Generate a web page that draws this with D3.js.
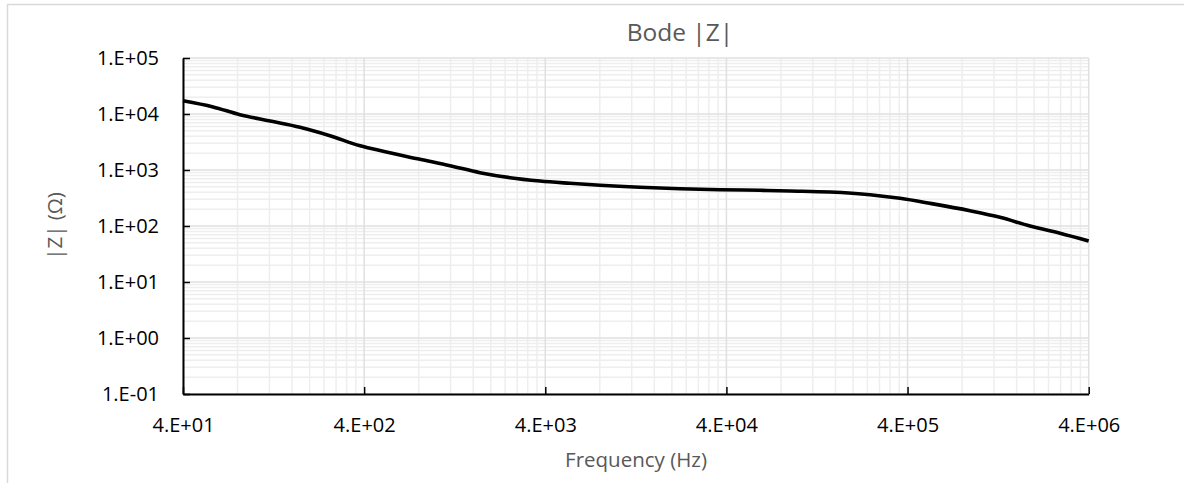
<!DOCTYPE html>
<html lang="en">
<head>
  <meta charset="UTF-8">
  <title>Bode |Z|</title>
  <style>
    body { margin: 0; background: #fff; }
    text { font-family: "Open Sans", sans-serif; }
  </style>
</head>
<body>
  <svg id="container" height="483" width="1184"></svg>
</body>
<script src="https://cdn.jsdelivr.net/npm/d3@7"></script>
<script>
  // data
  let freq = [40, 58.6, 82.6, 121, 177, 259, 380, 431, 814, 1191, 1744, 2555, 3741, 5476, 8021,
              13336, 22160, 36850, 61300, 89760, 149200, 248100, 363400, 532000, 884800,
              1295000, 1897000, 2777000, 4000000]
  let zmag = [17280, 13400, 9700, 7500, 5800, 4100, 2700, 2440, 1553, 1194, 895, 729, 636, 579, 533,
              491, 464, 445, 434, 422, 404, 362, 312, 254, 187.5,
              143, 100, 74, 54]
  let xTicks = [4e1, 4e2, 4e3, 4e4, 4e5, 4e6]
  let yTicks = [1e-1, 1e0, 1e1, 1e2, 1e3, 1e4, 1e5]

  let svg = d3.select("#container")
  let pLeft = 183, pRight = 1088.7, pTop = 58, pBottom = 394

  let x = d3.scaleLog().domain([40, 4e6]).range([pLeft, pRight])
  let y = d3.scaleLog().domain([0.1, 1e5]).range([pBottom, pTop])

  // excel style "4.E+01"
  let fmt = v => {
    let exp = Math.floor(Math.log10(v) + 1e-9)
    let m = Math.round(v / Math.pow(10, exp))
    let s = (exp < 0 ? "-" : "+") + String(Math.abs(exp)).padStart(2, "0")
    return m + ".E" + s
  }

  // chart border
  svg.append("rect").attr("x", 7.5).attr("y", 4.5).attr("width", 1300).attr("height", 600)
     .attr("fill", "none").attr("stroke", "#d9d9d9").attr("stroke-width", 1.5)

  // minor grid
  let xMinor = [], yMinor = []
  xTicks.slice(0, -1).forEach(t => { for (let k = 2; k <= 9; k++) xMinor.push(t * k) })
  yTicks.slice(0, -1).forEach(t => { for (let k = 2; k <= 9; k++) yMinor.push(t * k) })

  let grid = svg.append("g")
  grid.selectAll(".xm").data(xMinor).enter().append("line")
      .attr("x1", d => x(d)).attr("x2", d => x(d)).attr("y1", pTop).attr("y2", pBottom)
      .attr("stroke", "#eeeeee").attr("stroke-width", 1.5)
  grid.selectAll(".ym").data(yMinor).enter().append("line")
      .attr("y1", d => y(d)).attr("y2", d => y(d)).attr("x1", pLeft).attr("x2", pRight)
      .attr("stroke", "#eeeeee").attr("stroke-width", 1.5)
  grid.selectAll(".xM").data(xTicks).enter().append("line")
      .attr("x1", d => x(d)).attr("x2", d => x(d)).attr("y1", pTop).attr("y2", pBottom)
      .attr("stroke", "#e0e0e0").attr("stroke-width", 1.5)
  grid.selectAll(".yM").data(yTicks).enter().append("line")
      .attr("y1", d => y(d)).attr("y2", d => y(d)).attr("x1", pLeft).attr("x2", pRight)
      .attr("stroke", "#e0e0e0").attr("stroke-width", 1.5)

  // axes
  let xAxis = d3.axisBottom(x).tickValues(xTicks).tickFormat(fmt).tickSizeInner(-7).tickSizeOuter(0).tickPadding(24)
  let yAxis = d3.axisLeft(y).tickValues(yTicks).tickFormat(fmt).tickSizeInner(-7).tickSizeOuter(0).tickPadding(24)

  let gx = svg.append("g").attr("transform", `translate(0,${pBottom})`).call(xAxis)
  let gy = svg.append("g").attr("transform", `translate(${pLeft},0)`).call(yAxis)
  ;[gx, gy].forEach(g => {
    g.select(".domain").attr("stroke", "#000").attr("stroke-width", 2)
    g.selectAll(".tick line").attr("stroke", "#000").attr("stroke-width", 1.5)
    g.selectAll("text").attr("fill", "#000").style("font-size", "20px")
  })
  gx.selectAll("text").attr("dy", "0.71em")

  // curve
  let pts = freq.map((f, i) => [f, zmag[i]])
  let line = d3.line().x(d => x(d[0])).y(d => y(d[1])).curve(d3.curveMonotoneX)
  svg.append("path").datum(pts).attr("d", line)
     .attr("fill", "none").attr("stroke", "#000").attr("stroke-width", 3.6)
     .attr("stroke-linejoin", "round")

  // titles
  svg.append("text").attr("x", 680).attr("y", 41).attr("text-anchor", "middle")
     .attr("fill", "#595959").style("font-size", "24.5px").text("Bode |Z|")
  svg.append("text").attr("x", 636).attr("y", 467).attr("text-anchor", "middle")
     .attr("fill", "#595959").style("font-size", "20.5px").text("Frequency (Hz)")
  svg.append("text").attr("transform", `translate(62,${(pTop + pBottom) / 2}) rotate(-90)`)
     .attr("text-anchor", "middle").attr("fill", "#595959").style("font-size", "20.5px").text("|Z| (Ω)")
</script>
</html>
